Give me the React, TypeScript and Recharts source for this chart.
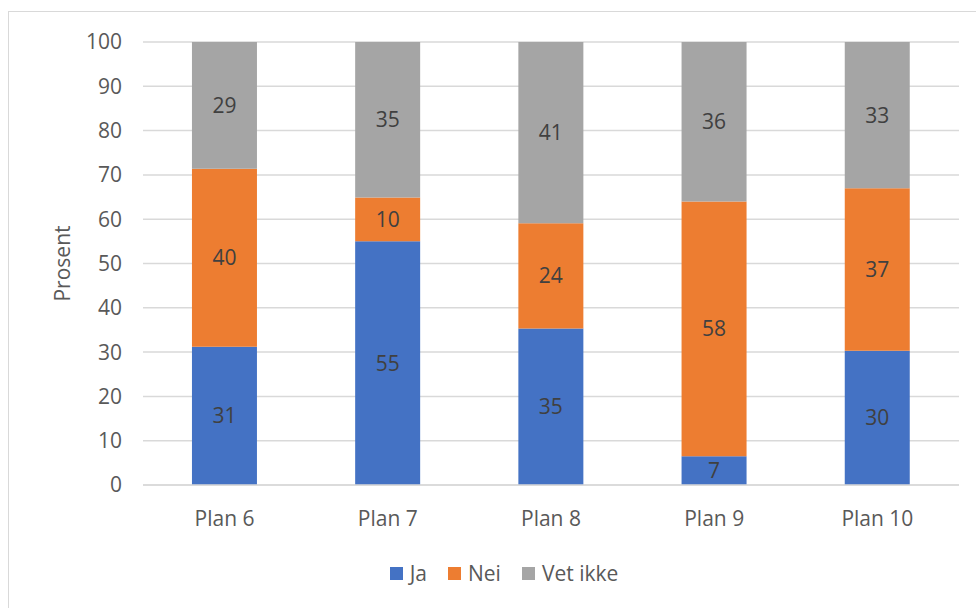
import React from 'react';
import { BarChart, Bar, XAxis, YAxis, CartesianGrid, Legend, LabelList } from 'recharts';

const categories = ['Plan 6', 'Plan 7', 'Plan 8', 'Plan 9', 'Plan 10'];
const ja = [31.2, 55.0, 35.3, 6.5, 30.3];
const nei = [40.2, 9.9, 23.8, 57.5, 36.7];
const vetIkke = [28.6, 35.1, 40.9, 36.0, 33.0];
const yTicks = [0, 10, 20, 30, 40, 50, 60, 70, 80, 90, 100];

const series = [
  { key: 'ja', name: 'Ja', color: '#4472C4' },
  { key: 'nei', name: 'Nei', color: '#ED7D31' },
  { key: 'vet', name: 'Vet ikke', color: '#A5A5A5' },
];

const data = categories.map((c, i) => ({ name: c, ja: ja[i], nei: nei[i], vet: vetIkke[i] }));

const FONT = '"Open Sans", sans-serif';

const renderLegend = () => (
  <div style={{ display: 'flex', justifyContent: 'center', alignItems: 'center', height: 30, fontFamily: FONT, fontSize: 21, color: '#595959' }}>
    {series.map((s, i) => (
      <div key={s.key} style={{ display: 'flex', alignItems: 'center', marginLeft: i === 0 ? 0 : 21 }}>
        <span style={{ display: 'inline-block', width: 13, height: 13, background: s.color, marginRight: 7 }} />
        <span>{s.name}</span>
      </div>
    ))}
  </div>
);

export default function App() {
  return (
    <div style={{ position: 'absolute', left: 0, top: 0, width: 976, height: 608, background: '#fff', overflow: 'hidden' }}>
      <div style={{ position: 'absolute', left: 8, top: 11, width: 1000, height: 700, border: '1.5px solid #D9D9D9', boxSizing: 'border-box' }} />
      <div style={{ position: 'absolute', left: 0, top: 0 }}>
        <BarChart
          width={976}
          height={608}
          data={data}
          margin={{ top: 42, right: 17, left: 40, bottom: 50 }}
          barCategoryGap="30%"
        >
          <CartesianGrid vertical={false} stroke="#D9D9D9" strokeWidth={1.5} />
          <XAxis
            dataKey="name"
            tickLine={false}
            axisLine={{ stroke: '#D9D9D9', strokeWidth: 1.5 }}
            tick={{ fill: '#595959', fontSize: 21, fontFamily: FONT }}
            tickMargin={20}
            height={40}
          />
          <YAxis
            domain={[0, 100]}
            ticks={yTicks}
            width={103}
            tickLine={false}
            axisLine={false}
            tick={{ fill: '#595959', fontSize: 21, fontFamily: FONT }}
            tickMargin={15}
            label={{
              content: (props: any) => {
                const vb = props.viewBox || {};
                const cx = 62;
                const cy = (vb.y || 0) + (vb.height || 0) / 2;
                return (
                  <text x={cx} y={cy} transform={`rotate(-90 ${cx} ${cy})`} textAnchor="middle" dominantBaseline="central" fill="#595959" fontSize={21} fontFamily={FONT}>
                    Prosent
                  </text>
                );
              },
            }}
          />
          <Legend
            verticalAlign="bottom"
            height={33}
            content={renderLegend}
            wrapperStyle={{ position: 'absolute', top: 558, left: 16, width: 976, bottom: 'auto' }}
          />
          {series.map((s) => (
            <Bar key={s.key} dataKey={s.key} name={s.name} stackId="a" fill={s.color} isAnimationActive={false}>
              <LabelList
                dataKey={s.key}
                position="center"
                formatter={(v: any) => Math.round(Number(v))}
                fill="#404040"
                fontSize={21}
                fontFamily={FONT}
              />
            </Bar>
          ))}
        </BarChart>
      </div>
    </div>
  );
}
